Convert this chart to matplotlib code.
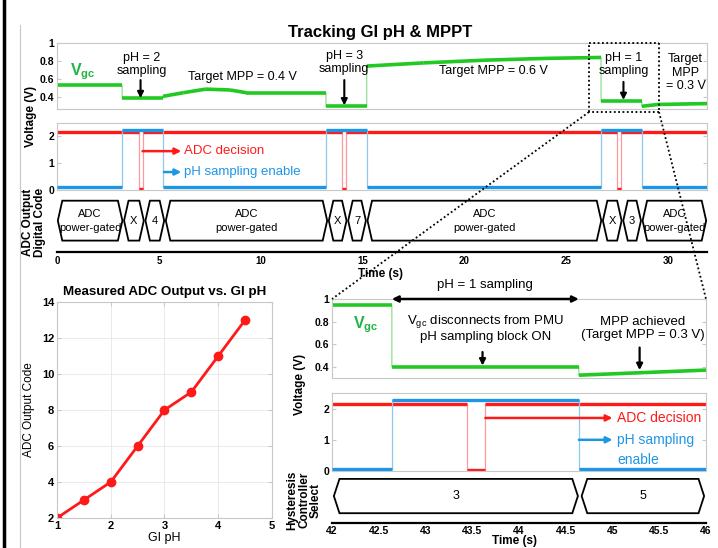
import numpy as np
import matplotlib
matplotlib.use('Agg')
import matplotlib.pyplot as plt
from matplotlib.patches import Polygon
from matplotlib.lines import Line2D

FONT = ['Liberation Sans', 'DejaVu Sans']
plt.rcParams['font.family'] = FONT
plt.rcParams['mathtext.fontset'] = 'custom'
plt.rcParams['mathtext.rm'] = 'Liberation Sans'
plt.rcParams['mathtext.bf'] = 'Liberation Sans:bold'

GREEN = '#22c922'
GREEN_TXT = '#1fb444'
RED = '#ff1a1a'
BLUE = '#1e96e6'
GRAY = '#c8c8c8'

# ---- top: tracking over 32 s ----
vgc_t = [0, 3.2, 3.2, 5.2, 5.2, 6.2, 7.3, 8.5, 9.3, 13.2, 13.2, 15.2, 15.2, 18, 21, 24, 26.7, 26.7, 28.7, 28.7, 29.5, 31.9]
vgc_v = [0.53, 0.53, 0.39, 0.39, 0.41, 0.45, 0.49, 0.48, 0.45, 0.45, 0.30, 0.30, 0.745, 0.78, 0.81, 0.83, 0.84, 0.36, 0.36, 0.30, 0.32, 0.33]
adc_t = [0, 4.0, 4.0, 4.2, 4.2, 14.0, 14.0, 14.2, 14.2, 27.5, 27.5, 27.7, 27.7, 31.9]
adc_v = [2.16, 2.16, 0.04, 0.04, 2.16, 2.16, 0.04, 0.04, 2.16, 2.16, 0.04, 0.04, 2.16, 2.16]
en_t = [0, 3.2, 3.2, 5.2, 5.2, 13.2, 13.2, 15.2, 15.2, 26.7, 26.7, 28.7, 28.7, 31.9]
en_v = [0.1, 0.1, 2.24, 2.24, 0.1, 0.1, 2.24, 2.24, 0.1, 0.1, 2.24, 2.24, 0.1, 0.1]
code_edges = [0, 3.25, 4.3, 5.3, 13.3, 14.25, 15.2, 26.75, 27.75, 28.7, 31.9]
code_labels = ['ADC\npower-gated', 'X', '4', 'ADC\npower-gated', 'X', '7',
               'ADC\npower-gated', 'X', '3', 'ADC\npower-gated']

# ---- bottom right: zoom 42-46 s ----
zvgc_t = [42, 42.64, 42.64, 44.64, 44.64, 46]
zvgc_v = [0.945, 0.945, 0.40, 0.40, 0.325, 0.37]
zadc_t = [42, 43.44, 43.44, 43.64, 43.64, 46]
zadc_v = [2.16, 2.16, 0.03, 0.03, 2.16, 2.16]
zen_t = [42, 42.64, 42.64, 44.64, 44.64, 46]
zen_v = [0.08, 0.08, 2.26, 2.26, 0.08, 0.08]
zsel_edges = [42, 44.65, 46]
zsel_labels = ['3', '5']

# ---- bottom left: ADC code vs pH ----
gi_ph = [1, 1.5, 2, 2.5, 3, 3.5, 4, 4.5]
adc_code = [2, 3, 4, 6, 8, 9, 11, 13]

W, H = 718, 548
fig = plt.figure(figsize=(W / 100, H / 100), dpi=100)


def rect(x0, y0, x1, y1):
    return [x0 / W, 1 - y1 / H, (x1 - x0) / W, (y1 - y0) / H]


def fp(x, y):
    return x / W, 1 - y / H


def style(ax, ylim, yticks, ylabels=None):
    ax.set_ylim(*ylim)
    ax.set_yticks(yticks)
    if ylabels is not None:
        ax.set_yticklabels(ylabels)
    for s in ax.spines.values():
        s.set_color(GRAY)
        s.set_linewidth(0.8)
    ax.tick_params(direction='in', length=3, color=GRAY, right=True, top=False,
                   labelbottom=False, bottom=False, labelsize=7.5, pad=2)
    for lab in ax.get_yticklabels():
        lab.set_fontweight('bold')


def trace(ax, t, v, color, edge, lw=2.4, z=2):
    ax.plot(t, v, color=edge, lw=0.9, zorder=z)
    for i in range(len(t) - 1):
        if t[i] != t[i + 1]:
            ax.plot(t[i:i + 2], v[i:i + 2], color=color, lw=lw,
                    solid_capstyle='butt', zorder=z + 0.5)


def bus(ax, edges, labels, d, gap, fs):
    y0, y1, ym = 0.2, 0.9, 0.55
    for a, b, lab in zip(edges[:-1], edges[1:], labels):
        a, b = a + gap, b - gap
        pts = [(a, ym), (a + d, y1), (b - d, y1), (b, ym), (b - d, y0), (a + d, y0)]
        ax.add_patch(Polygon(pts, closed=True, fill=False, ec='k', lw=1.3))
        ax.text((a + b) / 2, ym, lab, ha='center', va='center', fontsize=fs,
                linespacing=1.5)
    ax.set_ylim(0, 1)
    for k in ['top', 'left', 'right']:
        ax.spines[k].set_visible(False)
    ax.spines['bottom'].set_linewidth(1.6)
    ax.set_yticks([])
    ax.tick_params(axis='x', length=0, labelsize=7, pad=3)
    for lab in ax.get_xticklabels():
        lab.set_fontweight('bold')


def arrow(ax, x0, y0, x1, y1, color='k', style='-|>', lw=1.5, ms=9):
    ax.annotate('', xy=(x1, y1), xytext=(x0, y0), annotation_clip=False,
                arrowprops=dict(arrowstyle=style, color=color, lw=lw,
                                mutation_scale=ms, shrinkA=0, shrinkB=0))


# frame lines
fig.add_artist(Line2D([4 / W, 4 / W], [0, 1], color='k', lw=2.5))
fig.add_artist(Line2D([20 / W, 20 / W], [0, 1 - 25 / H], color=GRAY, lw=0.8))

# ================= top panel =================
ax1 = fig.add_axes(rect(57, 43, 707, 109))
trace(ax1, vgc_t, vgc_v, GREEN, '#8fe08f', lw=2.6)
ax1.set_xlim(0, 31.9)
style(ax1, (0.27, 1.0), [0.4, 0.6, 0.8, 1.0], ['0.4', '0.6', '0.8', '1'])
ax1.text(1.25, 0.68, r'$\mathbf{V_{gc}}$', color=GREEN_TXT, fontsize=11.5, ha='center', va='center')
ax1.text(4.15, 0.76, 'pH = 2\nsampling', ha='center', va='center', fontsize=9, linespacing=1.1)
arrow(ax1, 4.1, 0.59, 4.1, 0.39)
ax1.text(9.1, 0.62, 'Target MPP = 0.4 V', ha='center', va='center', fontsize=9)
ax1.text(14.1, 0.785, 'pH = 3\nsampling', ha='center', va='center', fontsize=9, linespacing=1.1)
arrow(ax1, 14.1, 0.59, 14.1, 0.31)
ax1.text(21.4, 0.69, 'Target MPP = 0.6 V', ha='center', va='center', fontsize=9)
ax1.text(27.8, 0.765, 'pH = 1\nsampling', ha='center', va='center', fontsize=9, linespacing=1.1)
arrow(ax1, 27.8, 0.57, 27.8, 0.37)
ax1.text(30.85, 0.67, 'Target\nMPP\n= 0.3 V', ha='center', va='center', fontsize=9, linespacing=1.15)
fig.text(*fp(380, 33), 'Tracking GI pH & MPPT', ha='center', va='center',
         fontsize=12, fontweight='bold')

ax2 = fig.add_axes(rect(57, 123, 707, 190))
trace(ax2, adc_t, adc_v, RED, '#ff9a9a', lw=2.4, z=2)
trace(ax2, en_t, en_v, BLUE, '#8cc8f0', lw=2.4, z=3)
ax2.set_xlim(0, 31.9)
style(ax2, (0, 2.5), [0, 1, 2])
arrow(ax2, 4.2, 1.45, 6.1, 1.45, color=RED, lw=1.8)
ax2.text(6.25, 1.45, 'ADC decision', color=RED, fontsize=9.5, va='center')
arrow(ax2, 5.25, 0.67, 6.1, 0.67, color=BLUE, lw=1.8)
ax2.text(6.25, 0.67, 'pH sampling enable', color=BLUE, fontsize=9.5, va='center')

ax3 = fig.add_axes(rect(57, 195, 707, 252))
ax3.set_xlim(0, 31.9)
bus(ax3, code_edges, code_labels, d=0.22, gap=0.04, fs=8)
ax3.set_xticks([0, 5, 10, 15, 20, 25, 30])
fig.text(*fp(380, 274), 'Time (s)', ha='center', va='center', fontsize=8.5, fontweight='bold')

fig.text(*fp(31, 116), 'Voltage (V)', rotation=90, ha='center', va='center',
         fontsize=8.5, fontweight='bold')
fig.text(*fp(34, 222), 'ADC Output\nDigital Code', rotation=90, ha='center', va='center',
         fontsize=8.5, fontweight='bold', linespacing=1.0)

# zoom box + connector lines
bx0, by0, bx1, by1 = 589, 43, 659, 112
for (xa, ya), (xb, yb) in [((bx0, by0), (bx1, by0)), ((bx1, by0), (bx1, by1)),
                           ((bx1, by1), (bx0, by1)), ((bx0, by1), (bx0, by0)),
                           ((bx0, by1), (332, 299)), ((bx1, by1), (706, 299))]:
    (x0, y0), (x1, y1) = fp(xa, ya), fp(xb, yb)
    fig.add_artist(Line2D([x0, x1], [y0, y1], color='k', lw=1.3, ls=(0, (1, 1.4)), zorder=10))

# ================= bottom left =================
ax7 = fig.add_axes(rect(57, 302, 272, 518))
ax7.plot(gi_ph, adc_code, color=RED, lw=2, marker='o', ms=6)
ax7.set_xlim(1, 5)
ax7.set_ylim(2, 14)
ax7.set_xticks([1, 2, 3, 4, 5])
ax7.set_yticks([2, 4, 6, 8, 10, 12, 14])
ax7.grid(True, color='#e6e6e6', lw=0.6)
ax7.set_axisbelow(True)
for s in ax7.spines.values():
    s.set_color(GRAY)
    s.set_linewidth(0.8)
ax7.tick_params(direction='in', length=3, color=GRAY, top=True, right=True, labelsize=8, pad=2)
for lab in ax7.get_xticklabels() + ax7.get_yticklabels():
    lab.set_fontweight('bold')
ax7.set_xlabel('GI pH', fontsize=9, labelpad=1)
ax7.set_ylabel('ADC Output Code', fontsize=8.5, labelpad=5)
ax7.set_title('Measured ADC Output vs. GI pH', fontsize=9.6, fontweight='bold', pad=5)

# ================= bottom right =================
ax4 = fig.add_axes(rect(332, 299, 706, 378))
trace(ax4, zvgc_t, zvgc_v, GREEN, '#8fe08f', lw=2.6)
ax4.set_xlim(42, 46)
style(ax4, (0.3, 1.0), [0.4, 0.6, 0.8, 1.0], ['0.4', '0.6', '0.8', '1'])
ax4.text(42.36, 0.77, r'$\mathbf{V_{gc}}$', color=GREEN_TXT, fontsize=11.5, ha='center', va='center')
arrow(ax4, 42.64, 1.0, 44.64, 1.0, style='<|-|>', lw=1.8)
ax4.text(43.64, 1.12, 'pH = 1 sampling', ha='center', va='center', fontsize=9.5)
ax4.text(43.64, 0.74, r'V$_{\rm gc}$ disconnects from PMU' + '\npH sampling block ON',
         ha='center', va='center', fontsize=9.5, linespacing=1.1)
arrow(ax4, 43.61, 0.53, 43.61, 0.41, lw=1.6)
ax4.text(45.32, 0.74, 'MPP achieved\n(Target MPP = 0.3 V)', ha='center', va='center',
         fontsize=9.5, linespacing=1.1)
arrow(ax4, 45.29, 0.57, 45.29, 0.37, lw=1.6)

ax5 = fig.add_axes(rect(332, 393, 706, 471))
trace(ax5, zadc_t, zadc_v, RED, '#ff9a9a', lw=2.4, z=2)
trace(ax5, zen_t, zen_v, BLUE, '#8cc8f0', lw=2.4, z=3)
ax5.set_xlim(42, 46)
style(ax5, (0, 2.5), [0, 1, 2])
arrow(ax5, 43.64, 1.7, 45.0, 1.7, color=RED, lw=1.8)
ax5.text(45.05, 1.7, 'ADC decision', color=RED, fontsize=10, va='center')
arrow(ax5, 44.64, 1.0, 45.0, 1.0, color=BLUE, lw=1.8)
ax5.text(45.05, 1.0, 'pH sampling', color=BLUE, fontsize=10, va='center')
ax5.text(45.05, 0.35, 'enable', color=BLUE, fontsize=10, va='center')

ax6 = fig.add_axes(rect(332, 474, 706, 523))
ax6.set_xlim(42, 46)
bus(ax6, zsel_edges, zsel_labels, d=0.06, gap=0.02, fs=9)
ax6.set_xticks([42, 42.5, 43, 43.5, 44, 44.5, 45, 45.5, 46])
ax6.set_xticklabels(['42', '42.5', '43', '43.5', '44', '44.5', '45', '45.5', '46'])
ax6.tick_params(axis='x', labelsize=7.5, pad=2)
fig.text(*fp(515, 541), 'Time (s)', ha='center', va='center', fontsize=8.5, fontweight='bold')

fig.text(*fp(300, 384), 'Voltage (V)', rotation=90, ha='center', va='center',
         fontsize=8.5, fontweight='bold')
fig.text(*fp(304, 500), 'Hysteresis\nController\nSelect', rotation=90, ha='center', va='center',
         fontsize=8.5, fontweight='bold', linespacing=1.0)

fig.savefig('out.png', dpi=100)
